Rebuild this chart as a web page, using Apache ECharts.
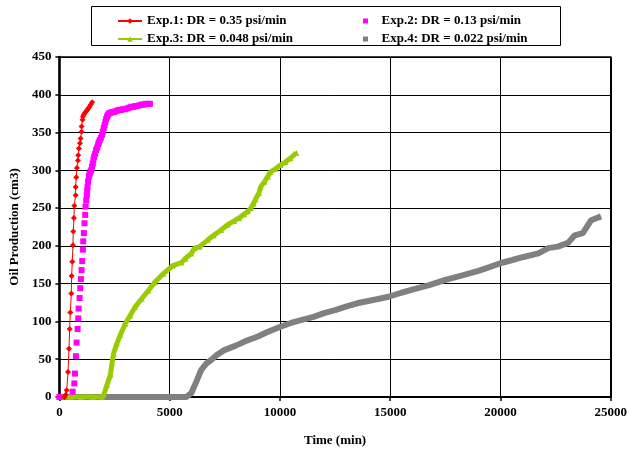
<!DOCTYPE html>
<html>
<head>
<meta charset="utf-8">
<script src="https://cdn.jsdelivr.net/npm/echarts@6/dist/echarts.min.js"></script>
<style>html,body{margin:0;padding:0;background:#fff}#c{width:630px;height:452px}</style>
</head>
<body>
<div id="c"></div>
<script>
var seriesNames = ['Exp.1: DR = 0.35 psi/min','Exp.2: DR = 0.13 psi/min','Exp.3: DR = 0.048 psi/min','Exp.4: DR = 0.022 psi/min'];
var xTicks = [0,5000,10000,15000,20000,25000];
var yTicks = [0,50,100,150,200,250,300,350,400,450];

var exp1 = [[230,0],[285,3],[330,9],[390,33],[435,64],[465,90],[495,112],[540,137],[555,160],[585,179],[615,201],[630,219],[660,237],[675,253],[735,267],[735,278],[765,291],[795,303],[840,313],[855,320],[885,329],[930,336],[960,342],[1005,351],[1005,358],[1050,367],[1065,371],[1110,374],[1155,376],[1210,378],[1260,380],[1310,382],[1365,384],[1425,387],[1485,390]];
var exp2 = [[0,0],[600,7],[675,18],[705,31],[750,54],[780,72],[825,90],[855,104],[870,117],[915,131],[945,144],[975,156],[1005,168],[1035,180],[1065,195],[1080,206],[1110,217],[1140,230],[1170,241],[1185,252],[1215,260],[1245,267],[1260,273],[1275,278],[1300,285],[1335,292],[1370,295],[1400,298],[1440,300],[1480,305],[1515,309],[1545,314],[1575,318],[1620,322],[1665,327],[1710,330],[1755,334],[1790,337],[1830,340],[1880,343],[1935,347],[1970,351],[2010,356],[2050,360],[2085,364],[2120,368],[2160,371],[2200,373],[2235,375],[2300,376],[2380,377],[2460,377],[2535,378],[2620,379],[2700,380],[2800,380],[2900,381],[2985,381],[3080,382],[3170,383],[3260,384],[3350,384],[3430,385],[3520,385],[3620,386],[3730,387],[3820,387],[3920,388],[4010,388],[4105,388]];
var exp3 = [[0,0],[500,0],[1000,0],[1500,0],[1930,0],[2010,3],[2160,16],[2310,29],[2385,45],[2460,58],[2610,71],[2760,82],[2985,97],[3210,108],[3430,119],[3730,130],[4035,141],[4330,152],[4705,163],[5155,174],[5530,178],[5700,183],[5980,190],[6130,197],[6355,199],[6730,208],[7000,214],[7330,221],[7630,228],[7925,233],[8150,237],[8375,242],[8550,246],[8680,250],[8800,256],[8900,262],[9050,270],[9125,278],[9300,285],[9455,292],[9575,298],[9800,302],[10025,307],[10250,311],[10475,316],[10745,323]];
var exp4 = [[0,0],[1000,0],[2000,0],[3000,0],[4000,0],[5000,0],[5755,0],[5980,5],[6205,20],[6430,36],[6650,44],[6880,49],[7150,56],[7475,62],[8000,68],[8530,75],[9000,80],[9430,86],[10025,93],[10500,98],[11000,102],[11525,106],[12000,111],[12500,115],[13025,120],[13500,124],[14000,127],[14500,130],[14970,133],[15500,138],[16000,142],[16770,148],[17500,155],[18270,161],[19000,167],[19500,172],[19990,177],[20500,181],[21000,185],[21715,190],[22165,197],[22600,199],[23065,204],[23365,214],[23735,217],[24110,234],[24560,239]];

var font = 'Liberation Serif, Times New Roman, serif';
var chart = echarts.init(document.getElementById('c'), null, {renderer:'canvas'});
var sq = 'path://M0,0h10v10h-10z';
var legText = {fontFamily:font,fontWeight:'bold',fontSize:13,lineHeight:13,color:'#000'};
chart.setOption({
  animation:false,
  backgroundColor:'#fff',
  graphic:[{type:'rect', shape:{x:91.5,y:6.5,width:469,height:39}, style:{fill:'#fff',stroke:'#000',lineWidth:1}, z:-1}],
  legend:[
    {orient:'vertical', left:112, top:9.5, itemWidth:24, itemHeight:7, itemGap:5, selectedMode:false,
     textStyle:legText,
     data:[{name:seriesNames[0]},{name:seriesNames[2]}]},
    {orient:'vertical', left:358, top:9.5, itemWidth:22, itemHeight:5, itemGap:5, selectedMode:false,
     textStyle:legText,
     data:[{name:seriesNames[1],icon:sq},{name:seriesNames[3],icon:sq}]}
  ],
  grid:{left:57,right:17,top:57,bottom:55,show:true,borderColor:'#000',borderWidth:1.5},
  xAxis:{type:'value',min:xTicks[0],max:xTicks[xTicks.length-1],interval:5000,
    name:'Time (min)',nameLocation:'middle',nameGap:37,
    nameTextStyle:{fontFamily:font,fontWeight:'bold',fontSize:13,color:'#000'},
    axisLine:{show:true,onZero:false,lineStyle:{color:'#000',width:2}},
    axisTick:{show:true,length:4,lineStyle:{color:'#000',width:1.5}},
    axisLabel:{fontFamily:font,fontWeight:'bold',fontSize:13,color:'#000',margin:9,formatter:function(v){return String(v);}},
    splitLine:{show:true,lineStyle:{color:'#000',width:1}}},
  yAxis:{type:'value',min:yTicks[0],max:yTicks[yTicks.length-1],interval:50,
    name:'Oil Production (cm3)',nameLocation:'middle',nameGap:38,
    nameTextStyle:{fontFamily:font,fontWeight:'bold',fontSize:13,color:'#000'},
    axisLine:{show:true,lineStyle:{color:'#000',width:2.5}},
    axisTick:{show:true,length:4,lineStyle:{color:'#000',width:1.5}},
    axisLabel:{fontFamily:font,fontWeight:'bold',fontSize:13,color:'#000',margin:8,formatter:function(v){return String(v);}},
    splitLine:{show:true,lineStyle:{color:'#000',width:1}}},
  series:[
    {name:seriesNames[0],type:'line',data:exp1,symbol:'diamond',symbolSize:6,showAllSymbol:true,
     itemStyle:{color:'#FF0000'},lineStyle:{color:'#FF0000',width:1},z:5},
    {name:seriesNames[1],type:'line',data:exp2,symbol:'rect',symbolSize:6,showAllSymbol:true,
     itemStyle:{color:'#FF00FF'},lineStyle:{width:0,opacity:0},z:4},
    {name:seriesNames[2],type:'line',data:exp3,symbol:'triangle',symbolSize:6,showAllSymbol:true,
     itemStyle:{color:'#99CC00'},lineStyle:{color:'#99CC00',width:5},z:3},
    {name:seriesNames[3],type:'line',data:exp4,symbol:'rect',symbolSize:6,showSymbol:false,
     itemStyle:{color:'#808080'},lineStyle:{color:'#808080',width:6},z:2}
  ]
});
</script>
</body>
</html>
